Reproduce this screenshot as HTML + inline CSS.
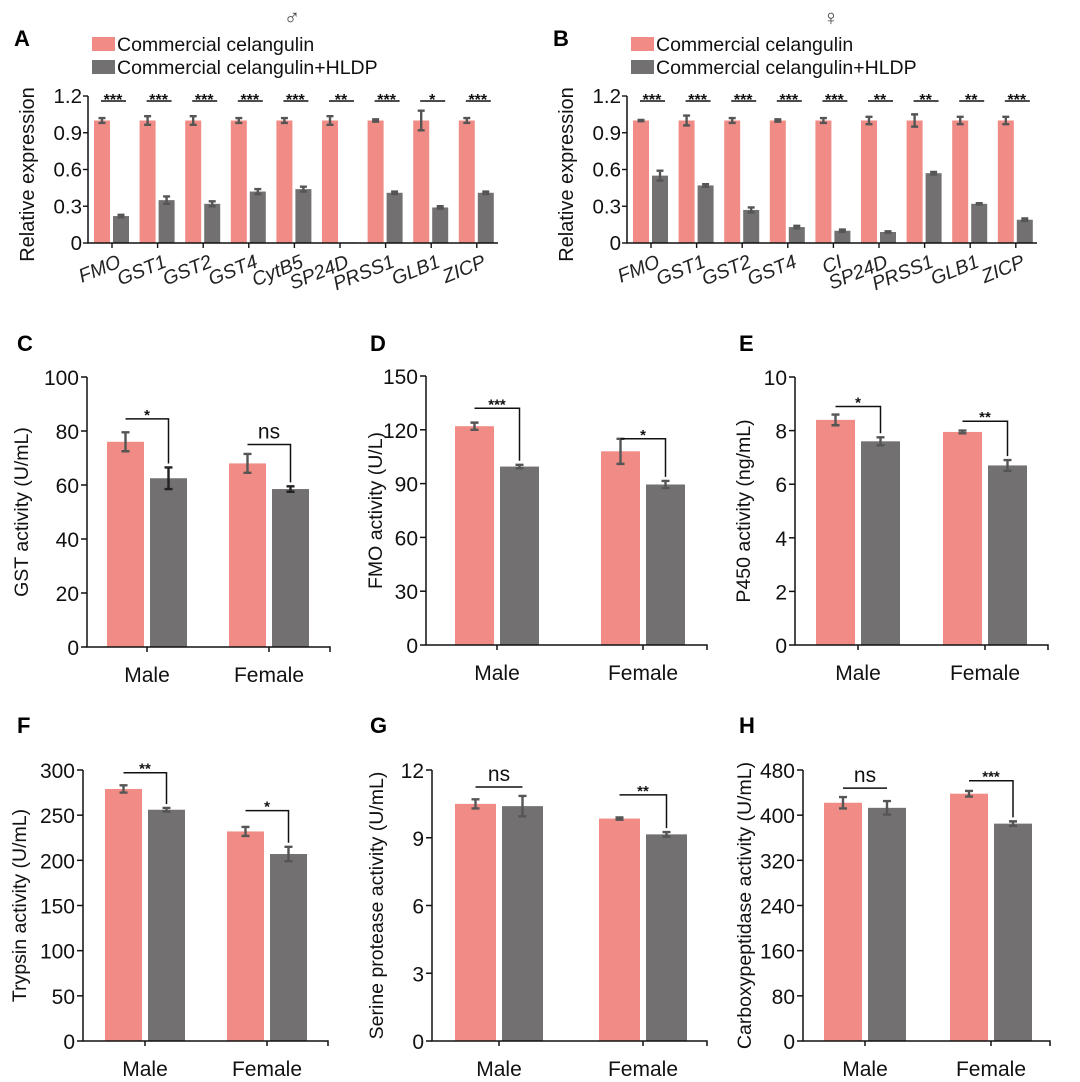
<!DOCTYPE html>
<html><head><meta charset="utf-8">
<style>
html,body{margin:0;padding:0;background:#fff;}
svg{display:block;font-family:"Liberation Sans",Arial,sans-serif;}
</style></head>
<body>
<svg id="fig" width="1080" height="1082" viewBox="0 0 1080 1082" xmlns="http://www.w3.org/2000/svg"></svg>
<script>
// ---- Panel A (male) ----
const genesA = ["FMO","GST1","GST2","GST4","CytB5","SP24D","PRSS1","GLB1","ZICP"];
const pinkA = [1,1,1,1,1,1,1,1,1];
const pinkErrA = [0.02,0.035,0.035,0.02,0.02,0.035,0.01,0.08,0.02];
const grayA = [0.22,0.35,0.32,0.42,0.44,0.005,0.41,0.29,0.41];
const grayErrA = [0.01,0.03,0.02,0.02,0.02,0,0.01,0.01,0.01];
const sigA = ["***","***","***","***","***","**","***","*","***"];
// ---- Panel B (female) ----
const genesB = ["FMO","GST1","GST2","GST4","CI","SP24D","PRSS1","GLB1","ZICP"];
const pinkB = [1,1,1,1,1,1,1,1,1];
const pinkErrB = [0.005,0.04,0.02,0.01,0.02,0.03,0.05,0.03,0.03];
const grayB = [0.55,0.47,0.27,0.13,0.10,0.09,0.57,0.32,0.19];
const grayErrB = [0.04,0.01,0.02,0.01,0.01,0.005,0.01,0.005,0.01];
const sigB = ["***","***","***","***","***","**","**","**","***"];
const ticksAB = [0,0.3,0.6,0.9,1.2];
const tickLabelsAB = ["0","0.3","0.6","0.9","1.2"];
// ---- Panels C-H ----
const sexes = ["Male","Female"];
const pinkC=[76,68], pinkErrC=[3.5,3.5], grayC=[62.5,58.5], grayErrC=[4,1], sigC=["*","ns"], brC=[84.5,75];
const ticksC=[0,20,40,60,80,100];
const pinkD=[122,108], pinkErrD=[2,7], grayD=[99.5,89.5], grayErrD=[1,2], sigD=["***","*"], brD=[132,115];
const ticksD=[0,30,60,90,120,150];
const pinkE=[8.4,7.95], pinkErrE=[0.2,0.05], grayE=[7.6,6.7], grayErrE=[0.15,0.2], sigE=["*","**"], brE=[8.9,8.35];
const ticksE=[0,2,4,6,8,10];
const pinkF=[279,232], pinkErrF=[4,5], grayF=[256,207], grayErrF=[2,8], sigF=["**","*"], brF=[297,255];
const ticksF=[0,50,100,150,200,250,300];
const pinkG=[10.5,9.85], pinkErrG=[0.2,0.05], grayG=[10.4,9.15], grayErrG=[0.45,0.1], sigG=["ns","**"], brG=[11.25,10.9];
const ticksG=[0,3,6,9,12];
const pinkH=[422,438], pinkErrH=[10,5], grayH=[413,385], grayErrH=[12,4], sigH=["ns","***"], brH=[448,461];
const ticksH=[0,80,160,240,320,400,480];

const NS="http://www.w3.org/2000/svg";
const svg=document.getElementById('fig');
const PINK="#f08c85", GRAY="#727070", ERR="#555";
function mk(tag,attrs,parent){const e=document.createElementNS(NS,tag);for(const k in attrs)e.setAttribute(k,attrs[k]);(parent||svg).appendChild(e);return e;}
function txt(s,attrs,parent){const e=mk('text',attrs,parent);e.textContent=s;return e;}

function errBar(g,x,y1,y2,cap,color){
  const l=mk('path',{d:`M${x} ${y1}V${y2}M${x-cap} ${y1}H${x+cap}M${x-cap} ${y2}H${x+cap}`,stroke:color,'stroke-width':2.4,fill:'none'},g);
  
  
}

function geneChart(id,ox,genes,pv,pe,gv,ge,sig,sym,label){
  const g=mk('g',{});
  
  
  const ax=ox+88, y0=243, yT=96, vmax=1.2, c0=ox+112, step=45.6;
  const Y=v=>y0-(v/vmax)*(y0-yT);
  const X=i=>c0+i*step;
  const pl=txt(label,{x:ox+14,y:46,'font-size':22,'font-weight':'bold'},g);
  
  
  const sy=txt(sym,{x:ox+292,y:25,'font-size':22,'text-anchor':'middle',fill:'#444'},g);
  
  
  const lg=mk('g',{},g);
  
  
  const r1=mk('rect',{x:ox+92,y:37,width:23,height:14,fill:PINK},lg);
  
  
  const t1=txt('Commercial celangulin',{x:ox+117,y:51,'font-size':19.5,fill:'#111'},lg);
  
  
  const r2=mk('rect',{x:ox+92,y:60,width:23,height:14,fill:GRAY},lg);
  
  
  const t2=txt('Commercial celangulin+HLDP',{x:ox+117,y:74,'font-size':19.5,fill:'#111'},lg);
  
  
  genes.forEach((n,i)=>{
    const c=X(i);
    const b1=mk('rect',{x:c-18,y:Y(pv[i]),width:16,height:y0-Y(pv[i]),fill:PINK},g);
    
    
    const b2=mk('rect',{x:c+1,y:Y(gv[i]),width:16,height:y0-Y(gv[i]),fill:GRAY},g);
    
    
    errBar(g,c-10,Y(pv[i]+pe[i]),Y(pv[i]-pe[i]),3.5,ERR);
    if(ge[i]>0) errBar(g,c+9,Y(gv[i]+ge[i]),Y(gv[i]-ge[i]),3.5,ERR);
    const s=txt(sig[i],{x:c+1,y:105,'font-size':16,'font-weight':'bold','text-anchor':'middle',fill:'#111'},g);
    
    
    const u=mk('line',{x1:c-11,x2:c+14,y1:101,y2:101,stroke:'#111','stroke-width':1.4},g);
    
    
    const tk=mk('line',{x1:c,x2:c,y1:y0,y2:y0+5,stroke:'#111','stroke-width':1.4},g);
    
    
    const xl=txt(n,{transform:`translate(${c+5},254) rotate(-22)`,'font-size':19.5,'font-style':'italic','text-anchor':'end','dominant-baseline':'hanging',fill:'#222'},g);
    
    
  });
  const a=mk('path',{d:`M${ax} ${yT}V${y0}H${ox+498}`,stroke:'#111','stroke-width':1.5,fill:'none'},g);
  
  
  ticksAB.forEach((t,i)=>{
    const l=mk('line',{x1:ax-5,x2:ax,y1:Y(t),y2:Y(t),stroke:'#111','stroke-width':1.4},g);
    
    
    const tl=txt(tickLabelsAB[i],{x:ax-6,y:Y(t)+7,'font-size':20.5,'text-anchor':'end',fill:'#111'},g);
    
    
  });
  const yt=txt('Relative expression',{transform:`translate(${ox+34},${(yT+y0)/2+5}) rotate(-90)`,'font-size':20,'text-anchor':'middle',fill:'#111'},g);
  
  
}

function sexChart(id,label,lx,ly,ax,y0,yT,xEnd,cM,cF,bw,pv,pe,gv,ge,sig,br,ticks,title,titleX,noDrop){
  const g=mk('g',{});
  
  
  const vmax=ticks[ticks.length-1];
  const Y=v=>y0-(v/vmax)*(y0-yT);
  const cs=[cM,cF];
  const pl=txt(label,{x:lx,y:ly,'font-size':22,'font-weight':'bold'},g);
  
  
  sexes.forEach((s,i)=>{
    const c=cs[i];
    const b1=mk('rect',{x:c-3-bw,y:Y(pv[i]),width:bw,height:y0-Y(pv[i]),fill:PINK},g);
    
    
    const b2=mk('rect',{x:c+3,y:Y(gv[i]),width:bw,height:y0-Y(gv[i]),fill:GRAY},g);
    
    
    const pc=c-3-bw/2, gc=c+3+bw/2;
    errBar(g,pc,Y(pv[i]+pe[i]),Y(pv[i]-pe[i]),4,ERR);
    errBar(g,gc,Y(gv[i]+ge[i]),Y(gv[i]-ge[i]),4,id==='panel-c'?'#222':ERR);
    const by=Y(br[i]);
    const drop = !(noDrop && sig[i]==='ns');
    const d = drop ? `M${pc} ${by}H${gc}V${Y(gv[i]+ge[i])-4}` : `M${pc} ${by}H${gc}`;
    const bl=mk('path',{d:d,stroke:'#111','stroke-width':1.5,fill:'none'},g);
    
    
    const isNs=sig[i]==='ns';
    const st=txt(sig[i],{x:(pc+gc)/2,y:isNs?by-6:by+1,'font-size':isNs?21:15,'font-weight':isNs?'normal':'bold','text-anchor':'middle',fill:'#111'},g);
    
    
    const tk=mk('line',{x1:c,x2:c,y1:y0,y2:y0+5,stroke:'#111','stroke-width':1.5},g);
    
    
    const xl=txt(s,{x:c,y:y0+35,'font-size':21,'text-anchor':'middle',fill:'#111'},g);
    
    
  });
  const a=mk('path',{d:`M${ax} ${yT}V${y0}H${xEnd}V${y0+5}`,stroke:'#111','stroke-width':1.5,fill:'none'},g);
  
  
  ticks.forEach(t=>{
    const l=mk('line',{x1:ax-6,x2:ax,y1:Y(t),y2:Y(t),stroke:'#111','stroke-width':1.5},g);
    
    
    const tl=txt(String(t),{x:ax-8,y:Y(t)+8,'font-size':21,'text-anchor':'end',fill:'#111'},g);
    
    
  });
  const yt=txt(title,{transform:`translate(${titleX},${(yT+y0)/2}) rotate(-90)`,'font-size':19.5,'text-anchor':'middle',fill:'#111'},g);
  
  
}

geneChart('panel-a',0,genesA,pinkA,pinkErrA,grayA,grayErrA,sigA,'\u2642','A');
geneChart('panel-b',539,genesB,pinkB,pinkErrB,grayB,grayErrB,sigB,'\u2640','B');

sexChart('panel-c','C',17,351,87,647,377,330,147,269,37,pinkC,pinkErrC,grayC,grayErrC,sigC,brC,ticksC,'GST activity (U/mL)',28,false);
sexChart('panel-d','D',370,351,426,645,376,707,497,643,39,pinkD,pinkErrD,grayD,grayErrD,sigD,brD,ticksD,'FMO activity (U/L)',382,false);
sexChart('panel-e','E',739,351,795,645,377,1048,858,985,39,pinkE,pinkErrE,grayE,grayErrE,sigE,brE,ticksE,'P450 activity (ng/mL)',750,false);
sexChart('panel-f','F',17,733,83,1041,770,328,145,267,37,pinkF,pinkErrF,grayF,grayErrF,sigF,brF,ticksF,'Trypsin activity (U/mL)',26,false);
sexChart('panel-g','G',370,733,432,1041,770,707,499,643,41,pinkG,pinkErrG,grayG,grayErrG,sigG,brG,ticksG,'Serine protease activity (U/mL)',383,true);
sexChart('panel-h','H',739,733,803,1041,770,1050,865,991,38,pinkH,pinkErrH,grayH,grayErrH,sigH,brH,ticksH,'Carboxypeptidase activity (U/mL)',751,true);
</script>
</body></html>
